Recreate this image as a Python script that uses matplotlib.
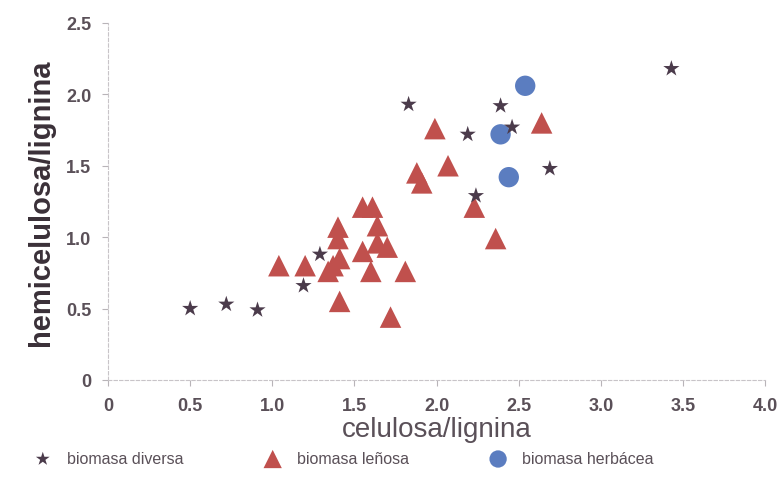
import matplotlib.pyplot as plt

plt.rcParams["font.family"] = ["Liberation Sans", "DejaVu Sans"]

# biomasa diversa (estrellas)
diversa_x = [0.50, 0.72, 0.91, 1.19, 1.29, 1.83, 2.39, 2.19, 2.46, 2.69, 2.24, 3.43]
diversa_y = [0.50, 0.53, 0.49, 0.66, 0.88, 1.93, 1.92, 1.72, 1.77, 1.48, 1.29, 2.18]

# biomasa leñosa (triángulos)
lenosa_x = [1.99, 2.64, 1.88, 1.91, 2.07, 2.23, 2.36,
            1.55, 1.61, 1.40, 1.64, 1.40, 1.64, 1.70, 1.55, 1.41, 1.37,
            1.04, 1.20, 1.34, 1.60, 1.81, 1.41, 1.72]
lenosa_y = [1.76, 1.80, 1.45, 1.38, 1.50, 1.21, 0.99,
            1.21, 1.21, 1.07, 1.08, 0.99, 0.96, 0.93, 0.90, 0.85, 0.80,
            0.80, 0.80, 0.76, 0.76, 0.76, 0.55, 0.44]

# biomasa herbácea (círculos)
herbacea_x = [2.54, 2.39, 2.44]
herbacea_y = [2.06, 1.72, 1.42]

gris = "#5a5058"

fig = plt.figure(figsize=(7.83, 4.89), dpi=100)
ax = fig.add_axes([0.138, 0.221, 0.839, 0.730])

ax.scatter(herbacea_x, herbacea_y, marker="o", s=215, color="#5b7dc0",
           edgecolors="none", label="biomasa herbácea", zorder=2)
ax.scatter(lenosa_x, lenosa_y, marker="^", s=240, color="#c0504d",
           edgecolors="none", label="biomasa leñosa", zorder=3)
ax.scatter(diversa_x, diversa_y, marker="*", s=150, color="#4b3b4b",
           edgecolors="none", label="biomasa diversa", zorder=4)

ax.set_xlim(0, 4.0)
ax.set_ylim(0, 2.5)
ax.set_xticks([0, 0.5, 1.0, 1.5, 2.0, 2.5, 3.0, 3.5, 4.0])
ax.set_xticklabels(["0", "0.5", "1.0", "1.5", "2.0", "2.5", "3.0", "3.5", "4.0"])
ax.set_yticks([0, 0.5, 1.0, 1.5, 2.0, 2.5])
ax.set_yticklabels(["0", "0.5", "1.0", "1.5", "2.0", "2.5"])

for lado in ["top", "right"]:
    ax.spines[lado].set_visible(False)
for lado in ["left", "bottom"]:
    ax.spines[lado].set_color("#c8c4c8")
    ax.spines[lado].set_linestyle((0, (3, 2)))
    ax.spines[lado].set_linewidth(0.8)

ax.tick_params(axis="both", length=4, width=0.8, color="#b8b4b8",
               labelsize=13, labelcolor=gris, pad=8)
for t in ax.get_xticklabels() + ax.get_yticklabels():
    t.set_fontweight("bold")

ax.set_xlabel("celulosa/lignina", fontsize=20, color=gris, labelpad=2)
ax.set_ylabel("hemicelulosa/lignina", fontsize=21, color="#3a3038",
              fontweight="bold", labelpad=8)

handles, labels = ax.get_legend_handles_labels()
orden = [2, 1, 0]
fig.legend([handles[i] for i in orden], [labels[i] for i in orden],
           loc="lower left", bbox_to_anchor=(0.022, 0.025), ncol=3,
           frameon=False, fontsize=11.5, labelcolor=gris, borderpad=0.1,
           markerscale=0.85, handletextpad=0.5, columnspacing=4.6)

fig.savefig("out.png", dpi=100)
